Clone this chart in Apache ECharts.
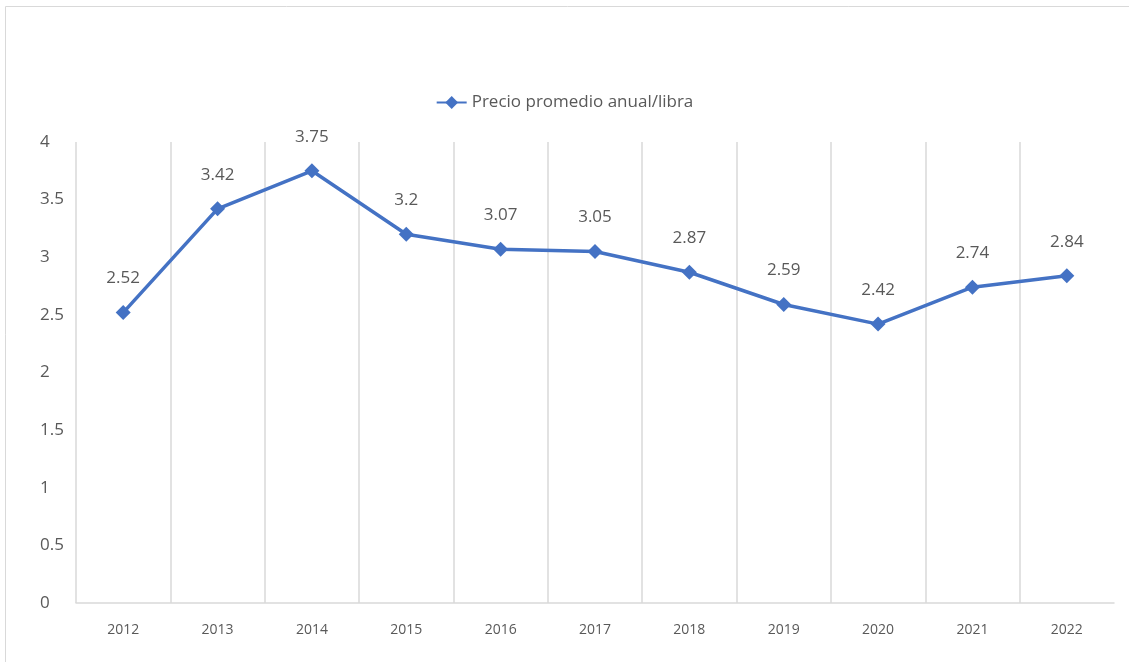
<!DOCTYPE html>
<html><head><meta charset="utf-8">
<script src="https://cdn.jsdelivr.net/npm/echarts@6/dist/echarts.min.js"></script>
<style>html,body{margin:0;padding:0;background:#fff}#c{width:1129px;height:662px}</style>
</head><body><div id="c"></div>
<script>
const categories = ['2012','2013','2014','2015','2016','2017','2018','2019','2020','2021','2022'];
const precio = [2.52,3.42,3.75,3.2,3.07,3.05,2.87,2.59,2.42,2.74,2.84];
const seriesName = 'Precio promedio anual/libra';
const chart = echarts.init(document.getElementById('c'));
chart.setOption({
  animation:false,
  backgroundColor:'#fff',
  graphic:[
    {type:'rect',z:100,zlevel:2,shape:{x:5.5,y:6.5,width:1130,height:670},style:{fill:'none',stroke:'#d9d9d9',lineWidth:1},silent:true},
    {type:'rect',z:100,zlevel:2,shape:{x:1108,y:130,width:17,height:471.5},style:{fill:'#ffffff'},silent:true}
  ],
  legend:{data:[seriesName],top:89,left:'center',itemWidth:30,itemHeight:16,itemGap:4,
    textStyle:{color:'#595959',fontSize:17,fontFamily:'Open Sans'}},
  grid:{left:76,right:15,top:142,bottom:59},
  xAxis:{type:'category',data:categories,boundaryGap:true,
    axisLine:{lineStyle:{color:'#d9d9d9',width:1.5}},axisTick:{show:false},
    splitLine:{show:true,showMinLine:true,showMaxLine:false,lineStyle:{color:'#d9d9d9',width:1.5}},
    axisLabel:{color:'#595959',fontSize:14,fontFamily:'Open Sans',margin:20}},
  yAxis:{type:'value',min:0,max:4,interval:0.5,
    axisLine:{show:false},axisTick:{show:false},splitLine:{show:false},
    axisLabel:{color:'#595959',fontSize:17,fontFamily:'Open Sans',margin:36,align:'left',showMaxLabel:true}},
  series:[{name:seriesName,type:'line',data:precio,symbol:'diamond',symbolSize:15,
    lineStyle:{color:'#4472C4',width:3.5},itemStyle:{color:'#4472C4'},
    label:{show:true,position:'top',distance:18,color:'#595959',fontSize:17,fontFamily:'Open Sans'}}]
});
</script></body></html>
